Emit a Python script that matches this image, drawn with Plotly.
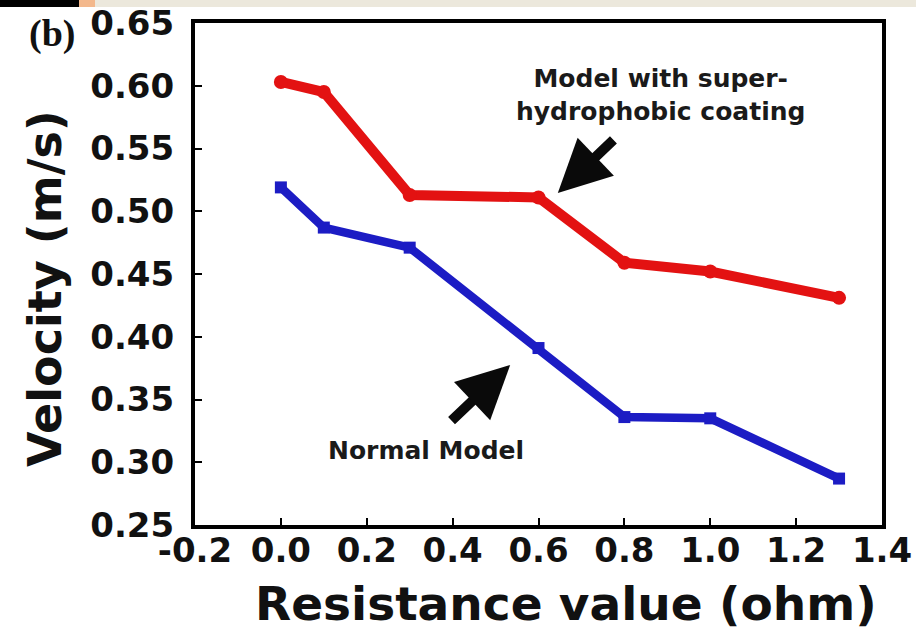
import plotly.graph_objects as go

# Resistance values (ohm) and measured velocities (m/s)
resistance = [0.0, 0.1, 0.3, 0.6, 0.8, 1.0, 1.3]
velocity_coated = [0.603, 0.595, 0.513, 0.511, 0.459, 0.452, 0.431]
velocity_normal = [0.519, 0.487, 0.471, 0.391, 0.336, 0.335, 0.287]

x_ticks = [-0.2, 0.0, 0.2, 0.4, 0.6, 0.8, 1.0, 1.2, 1.4]
y_ticks = [0.25, 0.30, 0.35, 0.40, 0.45, 0.50, 0.55, 0.60, 0.65]

W, H = 916, 638
ML, MR, MT, MB = 195, 34, 23, 113
PW, PH = W - ML - MR, H - MT - MB


def px_x(px):
    return (px - ML) / PW


def px_y(py):
    return (H - MB - py) / PH


BOLD = "DejaVu Sans"
fig = go.Figure()

fig.add_trace(go.Scatter(
    x=resistance, y=velocity_coated, mode="lines+markers",
    line=dict(color="#e31212", width=10),
    marker=dict(symbol="circle", size=14, color="#e31212"),
    name="Model with super-hydrophobic coating", showlegend=False,
))
fig.add_trace(go.Scatter(
    x=resistance, y=velocity_normal, mode="lines+markers",
    line=dict(color="#1c1cc4", width=8.5),
    marker=dict(symbol="square", size=12, color="#1c1cc4"),
    name="Normal Model", showlegend=False,
))

axis_common = dict(
    showgrid=False, zeroline=False, showline=True, linecolor="black",
    linewidth=4, mirror=True, ticks="inside", ticklen=7, tickwidth=2,
    tickcolor="black",
    tickfont=dict(family=BOLD, size=34, color="#111", weight="bold"),
)

fig.update_xaxes(
    range=[-0.2, 1.4], tickvals=x_ticks,
    ticktext=[f"{v:.1f}" for v in x_ticks],
    ticklabelstandoff=-8,
    **axis_common,
)
fig.update_yaxes(
    range=[0.25, 0.65], tickvals=y_ticks,
    ticktext=[f"{v:.2f}" for v in y_ticks],
    ticklabelstandoff=10,
    **axis_common,
)

title_font = dict(family=BOLD, color="#111", weight="bold")

annotations = [
    # axis titles
    dict(text="Resistance value (ohm)", xref="paper", yref="paper",
         x=px_x(566), y=px_y(603), showarrow=False,
         xanchor="center", yanchor="middle", font=dict(size=47, **title_font)),
    dict(text="Velocity (m/s)", xref="paper", yref="paper",
         x=px_x(45), y=px_y(289), showarrow=False, textangle=-90,
         xanchor="center", yanchor="middle", font=dict(size=46, **title_font)),
    # panel label
    dict(text="(b)", xref="paper", yref="paper", x=px_x(52), y=px_y(34),
         showarrow=False, xanchor="center", yanchor="middle",
         font=dict(family="Liberation Serif", size=38, color="#111", weight="bold")),
    # series labels
    dict(text="Model with super-<br>hydrophobic coating", x=0.884, y=0.593,
         xref="x", yref="y", showarrow=False, align="center",
         font=dict(family=BOLD, size=25, color="#1a1a1a", weight="bold")),
    dict(text="Normal Model", x=0.338, y=0.309, xref="x", yref="y",
         showarrow=False,
         font=dict(family=BOLD, size=25, color="#1a1a1a", weight="bold")),
    # pointer arrows
    dict(x=0.645, y=0.5145, ax=0.778, ay=0.558, xref="x", yref="y",
         axref="x", ayref="y", text="", showarrow=True, arrowhead=2,
         arrowsize=1.05, arrowwidth=10, arrowcolor="#0a0a0a"),
    dict(x=0.534, y=0.3775, ax=0.394, ay=0.332, xref="x", yref="y",
         axref="x", ayref="y", text="", showarrow=True, arrowhead=2,
         arrowsize=1.05, arrowwidth=10, arrowcolor="#0a0a0a"),
]

shapes = [
    # strip along the top edge of the page
    dict(type="rect", xref="paper", yref="paper", x0=px_x(0), x1=px_x(W),
         y0=px_y(7), y1=px_y(0), fillcolor="#ece8dc", line=dict(width=0),
         layer="above"),
    dict(type="rect", xref="paper", yref="paper", x0=px_x(0), x1=px_x(79),
         y0=px_y(7), y1=px_y(0), fillcolor="#000000", line=dict(width=0),
         layer="above"),
    dict(type="rect", xref="paper", yref="paper", x0=px_x(79), x1=px_x(95),
         y0=px_y(7), y1=px_y(0), fillcolor="#f3b88c", line=dict(width=0),
         layer="above"),
]

fig.update_layout(
    width=W, height=H,
    margin=dict(l=ML, r=MR, t=MT, b=MB, autoexpand=False),
    paper_bgcolor="white", plot_bgcolor="white",
    annotations=annotations, shapes=shapes,
)

fig.write_html("out.html")
